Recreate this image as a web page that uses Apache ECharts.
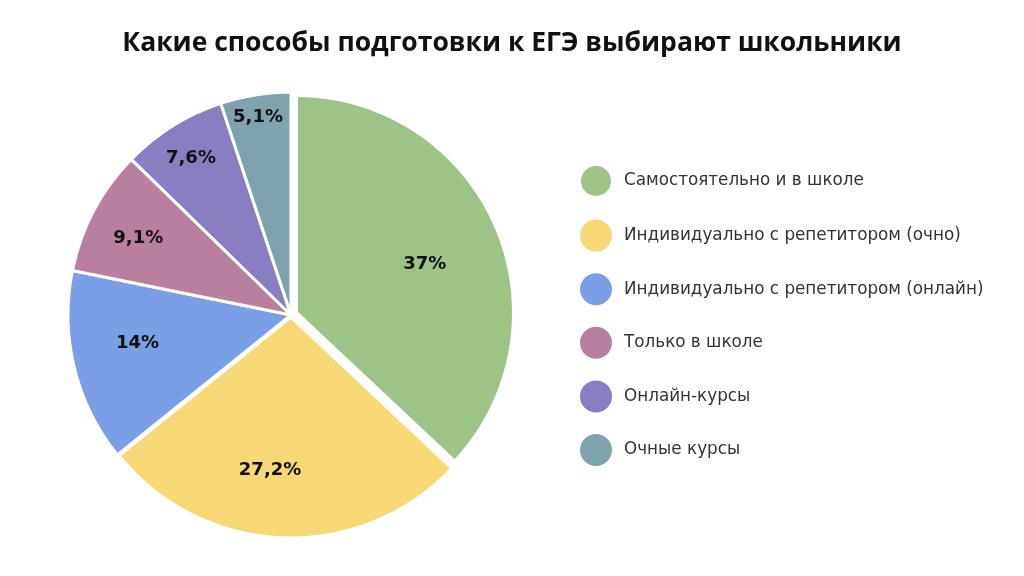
<!DOCTYPE html>
<html>
<head>
<meta charset="utf-8">
<script src="https://cdn.jsdelivr.net/npm/echarts@6/dist/echarts.min.js"></script>
<style>html,body{margin:0;padding:0;background:#fff;}#c{width:1024px;height:576px;}</style>
</head>
<body>
<div id="c"></div>
<script>
const categories = [
  'Самостоятельно и в школе',
  'Индивидуально с репетитором (очно)',
  'Индивидуально с репетитором (онлайн)',
  'Только в школе',
  'Онлайн-курсы',
  'Очные курсы'
];
const values = [37, 27.2, 14, 9.1, 7.6, 5.1];
const valueLabels = ['37%', '27,2%', '14%', '9,1%', '7,6%', '5,1%'];
const colors = ['#9DC386', '#F6D976', '#7A9FE6', '#B87F9E', '#8A7EC3', '#7FA3AD'];

// styling: pulled-out slices (index -> px), label polar placement
const pullOut = { 0: 6, 1: 2 };
const labelRadius = [143, 157, 156, 171, 186, 200];
const labelAngleShift = [-2.6, -5.5, -3.4, 1.2, 0.5, 0.3];

const CX = 291, CY = 315, R = 223;
const total = values.reduce((a, b) => a + b, 0);
const midAngles = [];
let acc = 0;
values.forEach(v => {
  const start = 90 - acc / total * 360;
  const end = 90 - (acc + v) / total * 360;
  midAngles.push((start + end) / 2);
  acc += v;
});
const rad = d => d * Math.PI / 180;

function pieSeries(visibleIdx, center, radius, withLabels, z) {
  return {
    type: 'pie',
    center: center,
    radius: radius,
    startAngle: 90,
    clockwise: true,
    z: z,
    selectedMode: false,
    avoidLabelOverlap: false,
    emphasis: { disabled: true },
    label: withLabels ? {
      show: true,
      position: 'inside',
      fontFamily: 'DejaVu Sans',
      fontWeight: 'bold',
      fontSize: 18,
      color: '#111',
      formatter: p => valueLabels[p.dataIndex]
    } : { show: false },
    labelLine: { show: false },
    labelLayout: withLabels ? function (p) {
      const i = p.dataIndex;
      const a = rad(midAngles[i] + labelAngleShift[i]);
      return {
        x: CX + labelRadius[i] * Math.cos(a),
        y: CY - labelRadius[i] * Math.sin(a),
        align: 'center',
        verticalAlign: 'middle'
      };
    } : undefined,
    data: categories.map((c, i) => {
      const vis = visibleIdx.indexOf(i) >= 0;
      return {
        name: c,
        value: values[i],
        itemStyle: vis
          ? { color: colors[i], borderColor: '#fff', borderWidth: 3 }
          : { color: 'rgba(0,0,0,0)', borderWidth: 0 }
      };
    })
  };
}

const series = [];
Object.keys(pullOut).forEach(k => {
  const i = +k, off = pullOut[k];
  const a = rad(midAngles[i]);
  series.push(pieSeries([i], [CX + off * Math.cos(a), CY - off * Math.sin(a)], R - off, false, 2));
});
series.push(pieSeries(
  categories.map((c, i) => i).filter(i => !(i in pullOut)),
  [CX, CY], R, true, 3
));

const chart = echarts.init(document.getElementById('c'));
chart.setOption({
  animation: false,
  title: {
    text: 'Какие способы подготовки к ЕГЭ выбирают школьники',
    left: 'center',
    top: 25,
    textStyle: { fontFamily: 'Open Sans', fontWeight: 'bold', fontSize: 26.5, color: '#111' }
  },
  legend: {
    orient: 'vertical',
    left: 574,
    top: 159,
    icon: 'circle',
    itemWidth: 32,
    itemHeight: 32,
    itemGap: 21.6,
    selectedMode: false,
    textStyle: { fontFamily: 'DejaVu Sans', fontSize: 16.8, color: '#333', padding: [0, 0, 0, 7] },
    data: categories.map((c, i) => ({ name: c, itemStyle: { color: colors[i] } }))
  },
  series: series
});
</script>
</body>
</html>
